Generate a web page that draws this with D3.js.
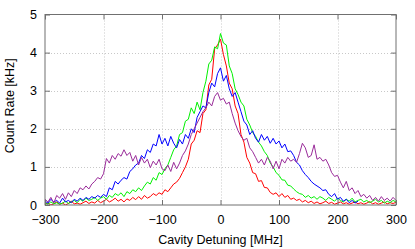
<!DOCTYPE html>
<html><head><meta charset="utf-8">
<script src="https://cdn.jsdelivr.net/npm/d3@7"></script>
<style>html,body{margin:0;padding:0;background:#fff;}svg{display:block;font-family:"Liberation Sans",Arial,sans-serif;}</style>
</head><body>
<script>
const xTicks = [-300,-200,-100,0,100,200,300];
const yTicks = [0,1,2,3,4,5];
const xStart = -300, xStep = 5;
const redVals = [0.02,0.05,0.0,0.03,0.08,0.02,0.05,0.0,0.04,0.1,0.03,0.05,0.02,0.06,0.1,0.04,0.08,0.05,0.12,0.06,
0.1,0.15,0.08,0.12,0.18,0.1,0.15,0.08,0.16,0.12,0.2,0.14,0.22,0.15,0.25,0.18,0.22,0.3,0.25,0.32,
0.28,0.4,0.35,0.45,0.55,0.6,0.7,0.85,1.0,1.2,1.6,1.7,1.95,1.9,2.4,2.5,3.15,3.3,4.1,4.2,
4.35,3.95,3.65,3.2,3.05,2.6,2.4,1.85,1.65,1.25,1.1,0.85,0.82,0.62,0.64,0.46,0.45,0.33,0.28,0.32,
0.22,0.3,0.2,0.25,0.15,0.18,0.12,0.15,0.08,0.12,0.06,0.1,0.04,0.08,0.03,0.06,0.1,0.04,0.07,0.02,
0.05,0.08,0.03,0.06,0.02,0.05,0.08,0.03,0.06,0.02,0.05,0.09,0.03,0.06,0.02,0.05,0.08,0.03,0.06,0.04,0.07];
const greenVals = [0.05,0.02,0.08,0.03,0.06,0.02,0.05,0.1,0.04,0.08,0.12,0.06,0.15,0.1,0.18,0.12,0.15,0.2,0.12,0.18,
0.22,0.15,0.25,0.2,0.3,0.25,0.32,0.22,0.35,0.3,0.4,0.35,0.45,0.38,0.5,0.6,0.55,0.72,0.65,0.85,
0.8,0.95,1.05,1.25,1.45,1.55,1.85,1.9,2.2,2.25,2.55,2.4,2.7,2.5,2.95,3.25,3.7,3.8,4.15,4.1,
4.5,4.25,4.2,3.65,3.45,3.05,2.9,2.7,2.6,2.25,2.1,1.9,1.8,1.65,1.55,1.4,1.3,1.1,1.0,0.85,
0.78,0.66,0.65,0.52,0.5,0.42,0.35,0.3,0.28,0.2,0.25,0.18,0.22,0.15,0.22,0.18,0.12,0.2,0.15,0.1,
0.18,0.12,0.08,0.15,0.1,0.18,0.08,0.12,0.15,0.08,0.12,0.06,0.1,0.15,0.08,0.12,0.05,0.1,0.06,0.12,0.08];
const blueVals = [0.1,0.05,0.15,0.08,0.12,0.05,0.18,0.08,0.12,0.06,0.15,0.1,0.18,0.12,0.2,0.15,0.22,0.18,0.25,0.2,
0.28,0.22,0.45,0.4,0.62,0.55,0.65,0.72,0.68,0.88,0.95,1.05,1.1,1.3,1.22,1.45,1.38,1.6,1.55,1.85,
1.6,1.75,1.55,1.8,1.62,1.5,1.72,1.6,1.85,1.75,2.0,1.9,2.3,2.45,2.6,2.55,2.95,3.2,3.1,3.45,
3.6,3.25,3.4,3.05,2.85,2.95,2.7,2.45,2.2,2.1,1.85,1.95,1.75,1.65,1.85,1.7,1.8,1.62,1.75,1.6,
1.68,1.5,1.6,1.4,1.42,1.3,1.12,1.05,0.9,0.8,0.72,0.62,0.55,0.5,0.45,0.38,0.4,0.28,0.22,0.3,
0.15,0.2,0.1,0.15,0.06,0.12,0.05,0.1];
const purpleVals = [0.15,0.08,0.2,0.05,0.25,0.18,0.3,0.15,0.32,0.22,0.38,0.3,0.45,0.4,0.5,0.42,0.55,0.62,0.72,0.68,
0.82,1.22,1.1,1.3,1.2,1.35,1.28,1.45,1.3,1.38,1.15,1.3,1.05,1.25,1.1,1.2,0.98,1.15,1.05,1.2,
0.95,0.9,1.05,0.88,1.12,0.95,1.1,1.3,1.42,1.6,1.85,2.0,2.15,2.3,2.45,2.55,2.7,2.6,2.85,2.95,
2.75,2.8,2.65,2.7,2.4,2.15,1.95,1.8,1.7,1.75,1.5,1.4,1.25,1.1,1.2,1.05,1.25,1.15,0.95,1.15,
0.95,1.2,1.1,1.25,1.15,1.2,1.12,1.35,1.62,1.5,1.25,1.3,1.58,1.2,1.25,1.15,1.2,1.05,0.85,0.75,
0.78,0.6,0.45,0.62,0.38,0.45,0.3,0.38,0.22,0.28,0.18,0.25,0.12,0.2,0.1,0.22,0.12,0.18,0.1,0.2,0.12];
const seriesNames = ["red","green","blue","purple"];
const seriesColors = ["#ff0000","#00f000","#0000ff","#992b99"];
const seriesVals = [redVals, greenVals, blueVals, purpleVals];

const W = 415, H = 249;
const m = {l:45, r:396, t:14.5, b:205};
const svg = d3.select("body").append("svg").attr("width",W).attr("height",H);
const x = d3.scaleLinear().domain([-300,300]).range([m.l,m.r]);
const y = d3.scaleLinear().domain([0,5]).range([m.b,m.t]);

// grid
const grid = svg.append("g").attr("stroke","#c8c8c8").attr("stroke-width",1).attr("stroke-dasharray","1,2");
grid.selectAll(".gx").data(xTicks.slice(1,-1)).join("line")
  .attr("x1",d=>Math.round(x(d))+0.5).attr("x2",d=>Math.round(x(d))+0.5).attr("y1",m.t).attr("y2",m.b);
grid.selectAll(".gy").data(yTicks.slice(1,-1)).join("line")
  .attr("y1",d=>Math.round(y(d))+0.5).attr("y2",d=>Math.round(y(d))+0.5).attr("x1",m.l).attr("x2",m.r);

// lines
svg.append("clipPath").attr("id","c").append("rect").attr("x",m.l).attr("y",m.t).attr("width",m.r-m.l).attr("height",m.b-m.t);
const line = d3.line().x((d,i)=>x(xStart+i*xStep)).y(d=>y(d));
svg.append("g").attr("clip-path","url(#c)").selectAll("path").data(seriesVals).join("path")
  .attr("d",d=>line(d)).attr("fill","none").attr("stroke",(d,i)=>seriesColors[i]).attr("stroke-width",1).attr("stroke-linejoin","round");

// axes
const fmt = d3.format("d");
const axBottom = d3.axisBottom(x).tickValues(xTicks).tickFormat(fmt).tickSizeInner(-5).tickSizeOuter(0).tickPadding(10);
const axLeft = d3.axisLeft(y).tickValues(yTicks).tickFormat(fmt).tickSizeInner(-5).tickSizeOuter(0).tickPadding(8);
const axTop = d3.axisTop(x).tickValues(xTicks).tickSizeInner(-5).tickSizeOuter(0).tickFormat("");
const axRight = d3.axisRight(y).tickValues(yTicks).tickSizeInner(-5).tickSizeOuter(0).tickFormat("");
function style(g){g.select(".domain").remove();g.selectAll(".tick line").attr("stroke","#707070");g.selectAll("text").attr("font-size",12.5).attr("fill","#000").attr("font-family","Liberation Sans, Arial, sans-serif");}
svg.append("g").attr("transform",`translate(0,${m.b})`).call(axBottom).call(style);
svg.append("g").attr("transform",`translate(${m.l},0)`).call(axLeft).call(style);
svg.append("g").attr("transform",`translate(0,${m.t})`).call(axTop).call(style);
svg.append("g").attr("transform",`translate(${m.r},0)`).call(axRight).call(style);
svg.append("rect").attr("x",m.l).attr("y",m.t).attr("width",m.r-m.l).attr("height",m.b-m.t).attr("fill","none").attr("stroke","#707070").attr("stroke-width",1);

svg.append("text").attr("x",(m.l+m.r)/2).attr("y",244).attr("text-anchor","middle").attr("font-size",12.5).text("Cavity Detuning [MHz]");
svg.append("text").attr("transform",`translate(14,${(m.t+m.b)/2 - 4}) rotate(-90)`).attr("text-anchor","middle").attr("font-size",12.5).text("Count Rate [kHz]");
</script>
</body></html>
